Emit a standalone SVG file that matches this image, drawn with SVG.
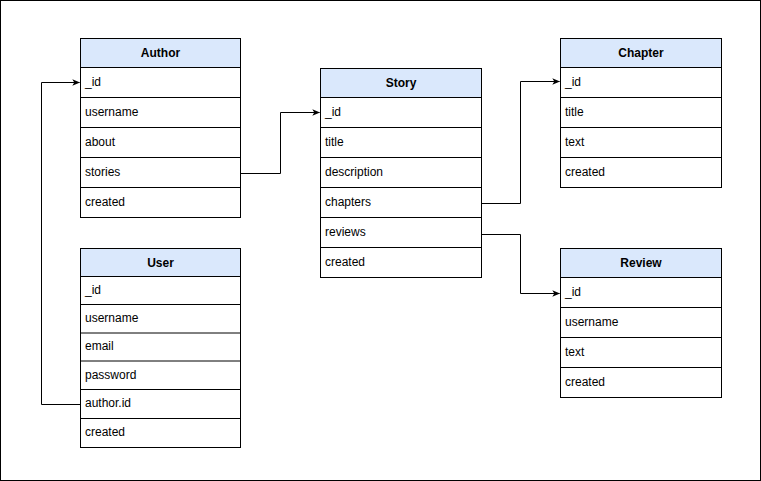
<svg xmlns="http://www.w3.org/2000/svg" width="761" height="481" viewBox="0 0 761 481">
<defs>
<style>
.box{fill:#ffffff;stroke:#000000;stroke-width:1}
.hdr{fill:#dae8fc;stroke:#000000;stroke-width:1}
.sep{stroke:#000000;stroke-width:1;fill:none}
.t{font-family:"Liberation Sans",Arial,sans-serif;font-size:12px;fill:#000000}
.h{font-family:"Liberation Sans",Arial,sans-serif;font-size:12px;font-weight:bold;fill:#000000;text-anchor:middle}
.edge{fill:none;stroke:#000000;stroke-width:1}
</style>
<marker id="arr" viewBox="0 0 10 10" refX="9" refY="5" markerWidth="8" markerHeight="8" markerUnits="userSpaceOnUse" orient="auto">
<path d="M0,1 L10,5 L0,9 L2.5,5 Z" fill="#000000"/>
</marker>
</defs>
<rect x="0.5" y="0.5" width="760" height="480" fill="#ffffff" stroke="#000000"/>

<g id="author">
<rect class="box" x="80.5" y="38.5" width="160" height="179"/>
<rect class="hdr" x="80.5" y="38.5" width="160" height="29"/>
<text class="h" x="160.5" y="57">Author</text>
<path class="sep" d="M80.5 97.5H240.5M80.5 127.5H240.5M80.5 157.5H240.5M80.5 187.5H240.5"/>
<text class="t" x="85" y="85.5">_id</text>
<text class="t" x="85" y="115.5">username</text>
<text class="t" x="85" y="145.5">about</text>
<text class="t" x="85" y="175.5">stories</text>
<text class="t" x="85" y="205.5">created</text>
</g>

<g id="user">
<rect class="box" x="80.5" y="248.5" width="160" height="199"/>
<rect class="hdr" x="80.5" y="248.5" width="160" height="28"/>
<text class="h" x="160.5" y="266.5">User</text>
<path class="sep" d="M80.5 304.5H240.5M80.5 333H240.5M80.5 361H240.5M80.5 389.5H240.5M80.5 418.5H240.5"/>
<text class="t" x="85" y="293.5">_id</text>
<text class="t" x="85" y="321.5">username</text>
<text class="t" x="85" y="350">email</text>
<text class="t" x="85" y="378.5">password</text>
<text class="t" x="85" y="407">author.id</text>
<text class="t" x="85" y="436">created</text>
</g>

<g id="story">
<rect class="box" x="320.5" y="68.5" width="161" height="209"/>
<rect class="hdr" x="320.5" y="68.5" width="161" height="29"/>
<text class="h" x="401" y="87">Story</text>
<path class="sep" d="M320.5 127.5H481.5M320.5 157.5H481.5M320.5 187.5H481.5M320.5 217.5H481.5M320.5 247.5H481.5"/>
<text class="t" x="325" y="115.5">_id</text>
<text class="t" x="325" y="145.5">title</text>
<text class="t" x="325" y="175.5">description</text>
<text class="t" x="325" y="205.5">chapters</text>
<text class="t" x="325" y="235.5">reviews</text>
<text class="t" x="325" y="265.5">created</text>
</g>

<g id="chapter">
<rect class="box" x="560.5" y="38.5" width="161" height="149"/>
<rect class="hdr" x="560.5" y="38.5" width="161" height="29"/>
<text class="h" x="641" y="57">Chapter</text>
<path class="sep" d="M560.5 97.5H721.5M560.5 127.5H721.5M560.5 157.5H721.5"/>
<text class="t" x="565" y="85.5">_id</text>
<text class="t" x="565" y="115.5">title</text>
<text class="t" x="565" y="145.5">text</text>
<text class="t" x="565" y="175.5">created</text>
</g>

<g id="review">
<rect class="box" x="560.5" y="248.5" width="161" height="149"/>
<rect class="hdr" x="560.5" y="248.5" width="161" height="29"/>
<text class="h" x="641" y="267">Review</text>
<path class="sep" d="M560.5 307.5H721.5M560.5 337.5H721.5M560.5 367.5H721.5"/>
<text class="t" x="565" y="295.5">_id</text>
<text class="t" x="565" y="325.5">username</text>
<text class="t" x="565" y="355.5">text</text>
<text class="t" x="565" y="385.5">created</text>
</g>

<g id="connectors">
<path class="edge" d="M240.5 173.5H280.5V112.5H319.5" marker-end="url(#arr)"/>
<path class="edge" d="M80.5 404.5H41.5V82.5H79.5" marker-end="url(#arr)"/>
<path class="edge" d="M481.5 203.5H520.5V81.5H559.5" marker-end="url(#arr)"/>
<path class="edge" d="M481.5 234.5H520.5V293.5H559.5" marker-end="url(#arr)"/>
</g>
</svg>
